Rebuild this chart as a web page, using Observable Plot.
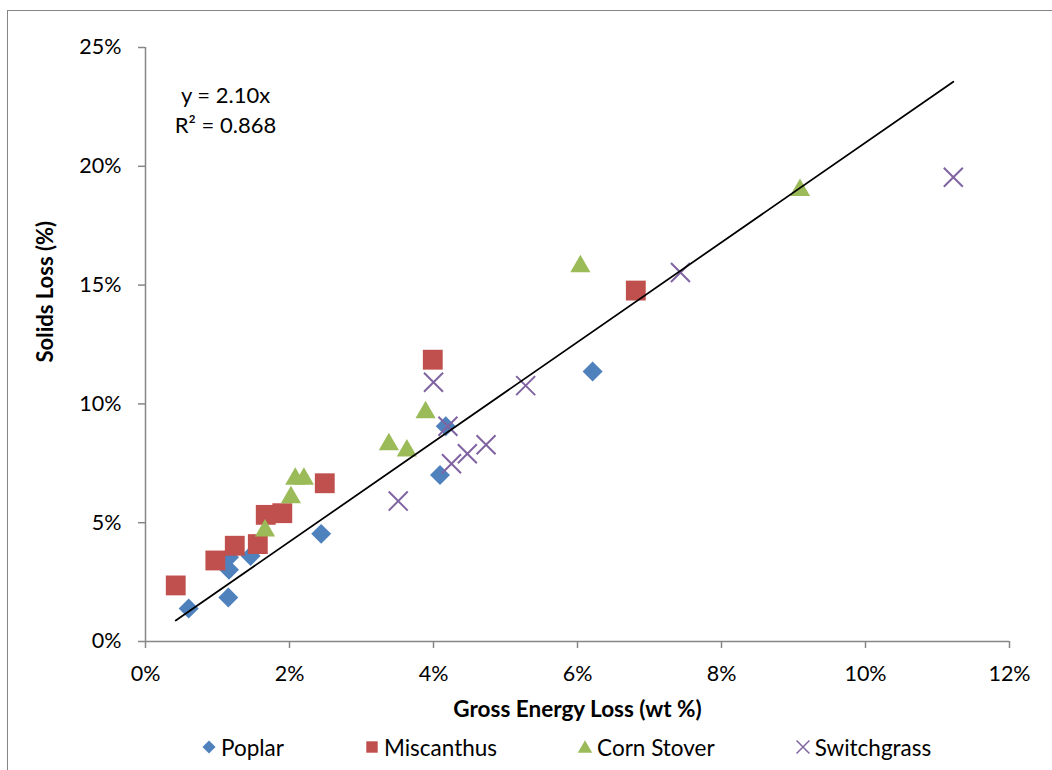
<!DOCTYPE html>
<html>
<head>
<meta charset="utf-8">
<script src="https://cdn.jsdelivr.net/npm/d3@7"></script>
<script src="https://cdn.jsdelivr.net/npm/@observablehq/plot@0.6"></script>
<style>
  body { margin: 0; background: #fff; font-family: Lato, "Open Sans", sans-serif; }
  #wrap { position: relative; width: 1052px; height: 770px; overflow: hidden; }
  #frame { position: absolute; left: 7px; top: 10px; width: 1200px; height: 900px;
           border-left: 1.5px solid #868686; border-top: 1.5px solid #868686; }
  #chart { position: absolute; left: 0; top: 0; }
  #legend { position: absolute; left: 0; top: 729px; width: 1052px; height: 36px;
            display: flex; align-items: center; padding-left: 201px; box-sizing: border-box;
            font-size: 22.5px; color: #000; }
  .item { display: flex; align-items: center; margin-right: 80px; }
  .item svg { margin-right: 4px; }
</style>
</head>
<body>
<div id="wrap">
  <div id="frame"></div>
  <div id="chart"></div>
  <div id="legend"></div>
</div>
<script>
// ---- data (Gross Energy Loss %, Solids Loss %) ----
const seriesNames = ["Poplar", "Miscanthus", "Corn Stover", "Switchgrass"];
const seriesColors = ["#4F81BD", "#C0504D", "#9BBB59", "#8064A2"];

const poplarEnergy = [0.60, 1.15, 1.16, 1.16, 1.46, 2.44, 4.09, 4.17, 6.21];
const poplarSolids = [1.39, 1.85, 3.02, 3.55, 3.60, 4.53, 7.01, 9.06, 11.36];

const miscanthusEnergy = [0.42, 0.97, 1.24, 1.56, 1.67, 1.90, 2.49, 3.99, 6.81];
const miscanthusSolids = [2.36, 3.41, 4.03, 4.10, 5.33, 5.40, 6.66, 11.86, 14.77];

const cornEnergy = [1.66, 2.02, 2.08, 2.20, 3.38, 3.63, 3.89, 6.04, 9.09];
const cornSolids = [4.79, 6.19, 6.96, 6.96, 8.42, 8.15, 9.76, 15.91, 19.12];

const switchEnergy = [3.51, 4.00, 4.20, 4.25, 4.47, 4.73, 5.28, 7.43, 11.22];
const switchSolids = [5.91, 10.91, 9.06, 7.48, 7.90, 8.28, 10.77, 15.53, 19.54];

// trendline: y = 2.10x (through origin), drawn across the data's x range
const trendSlope = 2.10;
const trendR2 = 0.868;

const xTicks = [0, 2, 4, 6, 8, 10, 12];
const yTicks = [0, 5, 10, 15, 20, 25];

const xTitle = "Gross Energy Loss (wt %)";
const yTitle = "Solids Loss (%)";

// ---- build tables ----
const toRows = (xs, ys) => xs.map((x, i) => ({x, y: ys[i]}));
const poplar = toRows(poplarEnergy, poplarSolids);
const miscanthus = toRows(miscanthusEnergy, miscanthusSolids);
const corn = toRows(cornEnergy, cornSolids);
const switchgrass = toRows(switchEnergy, switchSolids);
const allX = [...poplarEnergy, ...miscanthusEnergy, ...cornEnergy, ...switchEnergy];
const trend = d3.extent(allX).map(x => ({x, y: trendSlope * x}));

const gray = "#868686";
const font = "Lato, 'Open Sans', sans-serif";

const plot = Plot.plot({
  width: 1052,
  height: 729,
  marginLeft: 145,
  marginRight: 43,
  marginTop: 47,
  marginBottom: 88,
  style: {fontFamily: font, fontSize: "21.5px", background: "transparent", color: "#000", overflow: "visible"},
  x: {domain: [0, 12]},
  y: {domain: [0, 25]},
  marks: [
    Plot.ruleY([0], {stroke: gray, strokeWidth: 1.5}),
    Plot.ruleX([0], {stroke: gray, strokeWidth: 1.5}),
    Plot.axisX({ticks: xTicks, tickFormat: d => d + "%", tickSize: 7, tickPadding: 17, stroke: gray, strokeWidth: 1.5, label: null}),
    Plot.axisY({ticks: yTicks, tickFormat: d => d + "%", tickSize: 7, tickPadding: 17, stroke: gray, strokeWidth: 1.5, label: null}),
    Plot.dot(poplar, {x: "x", y: "y", symbol: "diamond2", r: 9, fill: seriesColors[0]}),
    Plot.dot(miscanthus, {x: "x", y: "y", symbol: "square", r: 11.2, fill: seriesColors[1]}),
    Plot.dot(corn, {x: "x", y: "y", symbol: "triangle", r: 7.5, dy: 2.9, fill: seriesColors[2]}),
    Plot.dot(switchgrass, {x: "x", y: "y", symbol: "times", r: 8.7, stroke: seriesColors[3], strokeWidth: 2}),
    Plot.line(trend, {x: "x", y: "y", stroke: "#000", strokeWidth: 1.75}),
    Plot.text([`y = ${trendSlope.toFixed(2)}x\nR² = ${trendR2.toFixed(3)}`], {
      frameAnchor: "top-left", dx: 80, dy: 35, textAnchor: "middle", lineHeight: 1.33, fontSize: 22
    }),
    Plot.text([xTitle], {frameAnchor: "bottom", dy: 75, fontWeight: "bold", fontSize: 22.5}),
    Plot.text([yTitle], {frameAnchor: "left", dx: -100, dy: 18, rotate: -90, fontWeight: "bold", fontSize: 22})
  ]
});
document.getElementById("chart").append(plot);

// ---- legend ----
const symbolKinds = ["diamond2", "square", "triangle", "times"];
const symbolMap = {diamond2: d3.symbolDiamond2, square: d3.symbolSquare, triangle: d3.symbolTriangle, times: d3.symbolTimes};
const legend = d3.select("#legend");
seriesNames.forEach((name, i) => {
  const item = legend.append("div").attr("class", "item");
  const svg = item.append("svg").attr("width", 16).attr("height", 16).attr("viewBox", "-8 -8 16 16");
  const kind = symbolKinds[i];
  const size = kind === "diamond2" ? 110 : kind === "square" ? 130 : kind === "triangle" ? 90 : 110;
  const p = svg.append("path").attr("d", d3.symbol(symbolMap[kind], size)()).attr("transform", kind === "triangle" ? "translate(0,1.5)" : null);
  if (kind === "times") p.attr("fill", "none").attr("stroke", seriesColors[i]).attr("stroke-width", 1.5);
  else p.attr("fill", seriesColors[i]);
  item.append("span").text(name);
});
</script>
</body>
</html>
